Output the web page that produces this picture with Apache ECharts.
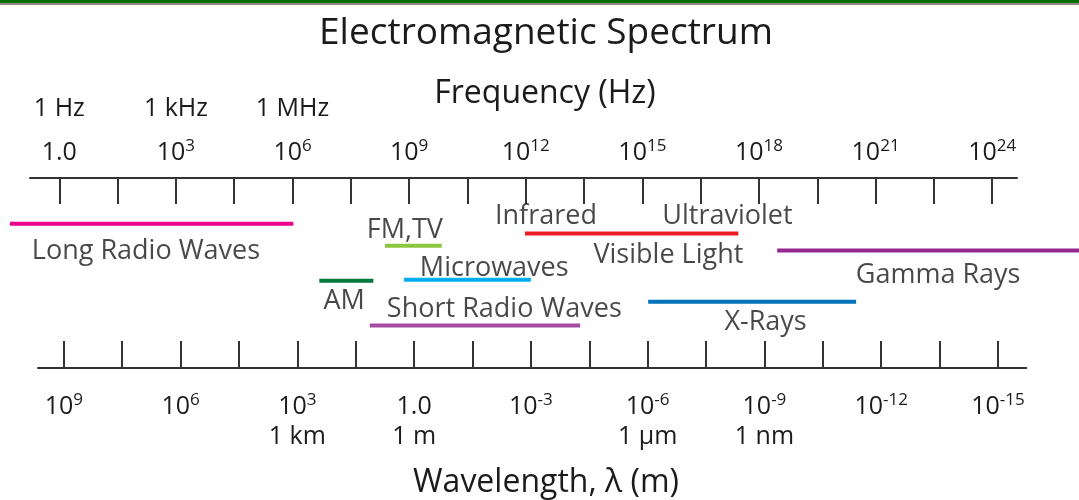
<!DOCTYPE html>
<html>
<head>
<meta charset="utf-8">
<script src="https://cdn.jsdelivr.net/npm/echarts@6/dist/echarts.min.js"></script>
<style>
  html, body { margin: 0; padding: 0; background: #ffffff; }
  #chart { width: 1079px; height: 500px; position: relative; }
  #topGreen { position: absolute; left: 0; top: 0; width: 1079px; height: 3px; background: #006f00; z-index: 5; }
  #topGray { position: absolute; left: 0; top: 3px; width: 1079px; height: 2px; background: #8a8a8a; z-index: 5; }
</style>
</head>
<body>
<div id="topGreen"></div>
<div id="topGray"></div>
<div id="chart"></div>
<script>
// ---- Data (log10 units) ----
const freqTicks = [0, 1.5, 3, 4.5, 6, 7.5, 9, 10.5, 12, 13.5, 15, 16.5, 18, 19.5, 21, 22.5, 24];
const freqLabelValues = [0, 3, 6, 9, 12, 15, 18, 21, 24];
const freqUnitValues = [0, 3, 6];
const freqUnitNames = ['1 Hz', '1 kHz', '1 MHz'];

const waveTicks = [9, 7.5, 6, 4.5, 3, 1.5, 0, -1.5, -3, -4.5, -6, -7.5, -9, -10.5, -12, -13.5, -15];
const waveLabelValues = [9, 6, 3, 0, -3, -6, -9, -12, -15];
const waveUnitValues = [3, 0, -6, -9];
const waveUnitNames = ['1 km', '1 m', '1 \u00b5m', '1 nm'];

// bands: frequency range in log10(Hz)
const bandNames  = ['Long Radio Waves', 'FM,TV', 'AM', 'Microwaves', 'Short Radio Waves', 'Infrared', 'X-Rays', 'Gamma Rays'];
const bandStart  = [-1.27, 8.38, 6.69, 8.87, 7.99, 11.98, 15.15, 18.47];
const bandEnd    = [6.02, 9.84, 8.08, 12.13, 13.40, 17.47, 20.50, 26.3];
const bandLane   = [45.7, 67.8, 102.8, 101.7, 147.5, 55.5, 123.7, 72.5];
const bandColors = ['#ec008c', '#8dc63f', '#007a3d', '#00aeef', '#a54ca2', '#ed1c24', '#0072bc', '#92278f'];

// text labels
const labelNames = ['Long Radio Waves', 'FM,TV', 'AM', 'Microwaves', 'Short Radio Waves', 'Infrared', 'Ultraviolet', 'Visible Light', 'Gamma Rays', 'X-Rays'];
const labelFreq  = [2.23, 8.89, 7.33, 11.19, 11.45, 12.52, 17.19, 15.67, 22.61, 18.17];
const labelLane  = [73.0, 52.5, 123.8, 90.5, 131.5, 38.5, 38.5, 77.3, 97.0, 144.0];

// ---- Chart ----
const FONT = 'Open Sans';
const TXT = '#1c1a1b';
const AXC = '#333333';

function expLabel(v) {
  if (v === 0) return '{b|1.0}';
  return '{b|10}{sup|' + v + '}';
}
const richTick = {
  b: { fontSize: 25, lineHeight: 30, fontFamily: FONT, color: TXT },
  sup: { fontSize: 17, lineHeight: 17, fontFamily: FONT, color: TXT, verticalAlign: 'top' },
  u: { fontSize: 25, lineHeight: 29, fontFamily: FONT, color: TXT }
};

const chart = echarts.init(document.getElementById('chart'), null, { renderer: 'canvas' });

const series = [];
bandNames.forEach((n, i) => {
  series.push({
    type: 'line',
    name: n,
    xAxisIndex: 3,
    yAxisIndex: 2,
    symbol: 'none',
    silent: true,
    lineStyle: { color: bandColors[i], width: 4, cap: 'butt' },
    data: [[bandStart[i], bandLane[i]], [bandEnd[i], bandLane[i]]]
  });
});
series.push({
  type: 'scatter',
  xAxisIndex: 3,
  yAxisIndex: 2,
  symbolSize: 1,
  itemStyle: { color: 'rgba(0,0,0,0)' },
  silent: true,
  label: {
    show: true,
    position: 'inside',
    formatter: '{b}',
    fontFamily: FONT,
    fontSize: 27,
    color: TXT
  },
  data: labelNames.map((n, i) => ({ name: n, value: [labelFreq[i], labelLane[i]] }))
});

chart.setOption({
  animation: false,
  backgroundColor: '#ffffff',
  title: [
    { text: 'Electromagnetic Spectrum', left: 541, top: 8, textAlign: 'center',
      textStyle: { fontFamily: FONT, fontSize: 37, fontWeight: 'normal', color: TXT, lineHeight: 40 } },
    { text: 'Frequency (Hz)', left: 540, top: 71, textAlign: 'center',
      textStyle: { fontFamily: FONT, fontSize: 32, fontWeight: 'normal', color: TXT, lineHeight: 36 } },
    { text: 'Wavelength, \u03bb (m)', left: 541, top: 460, textAlign: 'center',
      textStyle: { fontFamily: FONT, fontSize: 32, fontWeight: 'normal', color: TXT, lineHeight: 36 } }
  ],
  grid: [
    { left: 30, right: 62, top: 178, height: 190, containLabel: false },
    { left: 38, right: 52.6, top: 318, height: 50, containLabel: false },
    { left: 0, right: 0, top: 178, height: 190, containLabel: false }
  ],
  xAxis: [
    {
      gridIndex: 0, type: 'value', position: 'top', min: -0.754, max: 24.638,
      axisLine: { show: true, lineStyle: { color: AXC, width: 2 } },
      axisTick: { show: true, inside: true, length: 26, customValues: freqTicks, lineStyle: { color: AXC, width: 2 } },
      axisLabel: { show: true, margin: 10, customValues: freqLabelValues, formatter: expLabel, rich: richTick },
      splitLine: { show: false }
    },
    {
      gridIndex: 0, type: 'value', position: 'top', offset: 44, min: -0.754, max: 24.638,
      axisLine: { show: false }, axisTick: { show: false }, splitLine: { show: false },
      axisLabel: { show: true, margin: 10, customValues: freqUnitValues,
        formatter: v => '{b|' + freqUnitNames[freqUnitValues.indexOf(v)] + '}', rich: richTick }
    },
    {
      gridIndex: 1, type: 'value', position: 'bottom', inverse: true, min: -15.73, max: 9.663,
      axisLine: { show: true, lineStyle: { color: AXC, width: 2 } },
      axisTick: { show: true, inside: true, length: 27, customValues: waveTicks, lineStyle: { color: AXC, width: 2 } },
      axisLabel: { show: true, margin: 24, customValues: waveLabelValues, rich: richTick,
        formatter: v => {
          const k = waveUnitValues.indexOf(v);
          return expLabel(v) + (k >= 0 ? '\n{u|' + waveUnitNames[k] + '}' : '');
        } },
      splitLine: { show: false }
    },
    {
      gridIndex: 2, type: 'value', min: -1.5256, max: 26.234, show: false
    }
  ],
  yAxis: [
    { gridIndex: 0, type: 'value', min: 0, max: 190, inverse: true, show: false },
    { gridIndex: 1, type: 'value', min: 0, max: 1, show: false },
    { gridIndex: 2, type: 'value', min: 0, max: 190, inverse: true, show: false }
  ],
  series: series
});
</script>
</body>
</html>
